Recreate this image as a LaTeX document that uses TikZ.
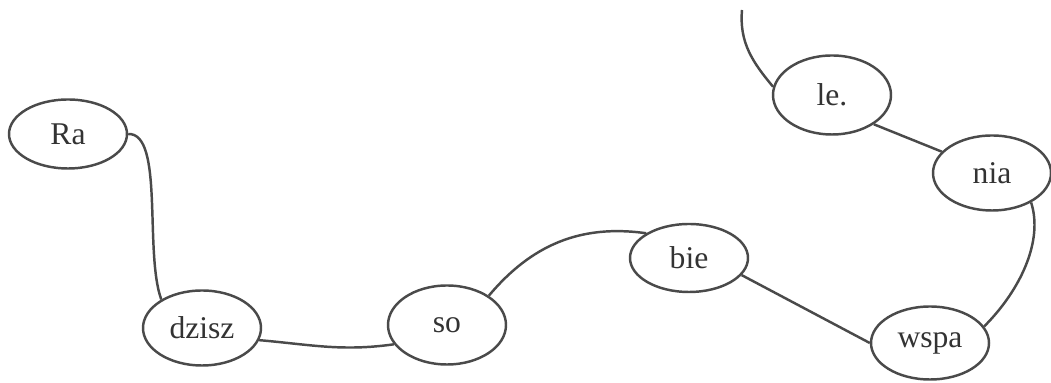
\documentclass[tikz,border=0pt]{standalone}
\usepackage{fontspec}
\setmainfont{Liberation Serif}
\usepackage{tikz}
\usetikzlibrary{shapes.geometric}

\definecolor{ink}{HTML}{4A4A4A}
\definecolor{txt}{HTML}{333333}

\tikzset{
 syl/.style={ellipse, draw=ink, line width=1.4pt, minimum width=2.36cm, minimum height=1.5cm,
   inner sep=0pt, text=txt, font=\fontsize{18}{21}\selectfont},
 link/.style={draw=ink, line width=1.4pt}
}

\begin{document}
\begin{tikzpicture}
 \useasboundingbox (0,0) rectangle (21.02,7.66);

 \node (ra) at (1.36,4.98)[syl, minimum height=1.38cm]{Ra};
 \node (dzisz) at (4.04,1.10)[syl]{dzisz};
 \node (so) at (8.94,1.16)[syl, minimum height=1.58cm]{so};
 \node (bie) at (13.78,2.50)[syl, minimum height=1.36cm]{bie};
 \node (wspa) at (18.60,0.80)[syl, minimum height=1.46cm]{wspa};
 \node (nia) at (19.84,4.20)[syl]{nia};
 \node (le) at (16.64,5.76)[syl, minimum height=1.58cm]{le.};
 \coordinate (top) at (14.84,7.46);

 \draw[link] (ra.east) to[out=2,in=110,out distance=0.72cm,in distance=1cm] (dzisz.145);
 \draw[link] (dzisz.-12) to[out=-5,in=188] (so.200);
 \draw[link] (so.35) to[out=50,in=172] (bie.150);
 \draw[link] (bie.-18) -- (wspa.180);
 \draw[link] (nia.-37) to[out=-72,in=45,out distance=0.8cm] (wspa.17);
 \draw[link] (le.-35) -- (nia.157);
 \draw[link] (le.172) to[out=130,in=-95] (top);

\end{tikzpicture}
\end{document}
